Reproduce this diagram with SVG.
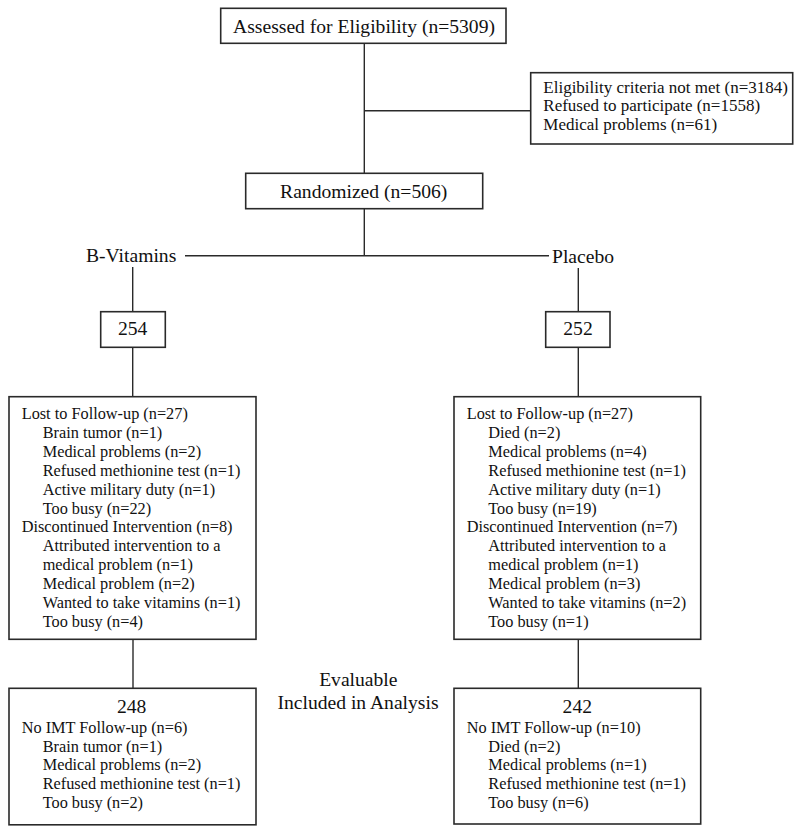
<svg xmlns="http://www.w3.org/2000/svg" width="800" height="830" viewBox="0 0 800 830">
<style>
  .box { fill: #fff; stroke: #2a2a2a; stroke-width: 1.6; }
  .ln { stroke: #2a2a2a; stroke-width: 1.4; fill: none; }
  text { font-family: "Liberation Serif", "Times New Roman", serif; fill: #111; }
  .big { font-size: 19.6px; }
  .sm { font-size: 16.3px; }
  .ex { font-size: 17px; }
  .c { text-anchor: middle; }
</style>
<rect width="800" height="830" fill="#fff"/>
<g id="connectors">
  <line class="ln" x1="364.3" y1="43.3" x2="364.3" y2="173.3"/>
  <line class="ln" x1="364.3" y1="110.7" x2="530.7" y2="110.7"/>
  <line class="ln" x1="364.3" y1="208.7" x2="364.3" y2="255.7"/>
  <line class="ln" x1="185" y1="255.7" x2="549" y2="255.7"/>
  <line class="ln" x1="132.7" y1="267" x2="132.7" y2="311.7"/>
  <line class="ln" x1="578.3" y1="268" x2="578.3" y2="311.7"/>
  <line class="ln" x1="132.7" y1="347.3" x2="132.7" y2="396.7"/>
  <line class="ln" x1="578.3" y1="347.3" x2="578.3" y2="396.7"/>
  <line class="ln" x1="133" y1="639.3" x2="133" y2="688.3"/>
  <line class="ln" x1="578.3" y1="639.3" x2="578.3" y2="688.3"/>
</g>
<g id="assessed">
  <rect class="box" x="220.7" y="8.3" width="285.3" height="35"/>
  <text class="big c" x="364" y="33.3">Assessed for Eligibility (n=5309)</text>
</g>
<g id="excluded">
  <rect class="box" x="530.7" y="72.7" width="262" height="71.3"/>
  <text class="ex" x="543.3" y="93">Eligibility criteria not met (n=3184)</text>
  <text class="ex" x="543.3" y="111.3">Refused to participate (n=1558)</text>
  <text class="ex" x="543.3" y="129.6">Medical problems (n=61)</text>
</g>
<g id="randomized">
  <rect class="box" x="245.7" y="173.3" width="237" height="35.4"/>
  <text class="big c" x="363.7" y="197.7">Randomized (n=506)</text>
</g>
<g id="label-bvitamins">
  <text class="big" x="86" y="262">B-Vitamins</text>
</g>
<g id="label-placebo">
  <text class="big" x="552" y="263">Placebo</text>
</g>
<g id="n254">
  <rect class="box" x="100.7" y="311.7" width="64.6" height="35.6"/>
  <text class="big c" x="132.7" y="335">254</text>
</g>
<g id="n252">
  <rect class="box" x="545.7" y="311.7" width="64.3" height="35.6"/>
  <text class="big c" x="578" y="335">252</text>
</g>
<g id="lost-left">
  <rect class="box" x="9" y="396.7" width="247" height="242.6"/>
  <text class="sm">
    <tspan x="21.7" y="419">Lost to Follow-up (n=27)</tspan>
    <tspan x="42.7" y="437.9">Brain tumor (n=1)</tspan>
    <tspan x="42.7" y="456.8">Medical problems (n=2)</tspan>
    <tspan x="42.7" y="475.7">Refused methionine test (n=1)</tspan>
    <tspan x="42.7" y="494.6">Active military duty (n=1)</tspan>
    <tspan x="42.7" y="513.5">Too busy (n=22)</tspan>
    <tspan x="21.7" y="532.4">Discontinued Intervention (n=8)</tspan>
    <tspan x="42.7" y="551.3">Attributed intervention to a</tspan>
    <tspan x="42.7" y="570.2">medical problem (n=1)</tspan>
    <tspan x="42.7" y="589.1">Medical problem (n=2)</tspan>
    <tspan x="42.7" y="608">Wanted to take vitamins (n=1)</tspan>
    <tspan x="42.7" y="626.9">Too busy (n=4)</tspan>
  </text>
</g>
<g id="lost-right">
  <rect class="box" x="454" y="396.7" width="246.7" height="242.6"/>
  <text class="sm">
    <tspan x="466.7" y="419">Lost to Follow-up (n=27)</tspan>
    <tspan x="488.3" y="437.9">Died (n=2)</tspan>
    <tspan x="488.3" y="456.8">Medical problems (n=4)</tspan>
    <tspan x="488.3" y="475.7">Refused methionine test (n=1)</tspan>
    <tspan x="488.3" y="494.6">Active military duty (n=1)</tspan>
    <tspan x="488.3" y="513.5">Too busy (n=19)</tspan>
    <tspan x="466.7" y="532.4">Discontinued Intervention (n=7)</tspan>
    <tspan x="488.3" y="551.3">Attributed intervention to a</tspan>
    <tspan x="488.3" y="570.2">medical problem (n=1)</tspan>
    <tspan x="488.3" y="589.1">Medical problem (n=3)</tspan>
    <tspan x="488.3" y="608">Wanted to take vitamins (n=2)</tspan>
    <tspan x="488.3" y="626.9">Too busy (n=1)</tspan>
  </text>
</g>
<g id="label-evaluable">
  <text class="big c" x="358.3" y="686">Evaluable</text>
  <text class="big c" x="358" y="709.3">Included in Analysis</text>
</g>
<g id="analysed-left">
  <rect class="box" x="9" y="688.3" width="247" height="136.5"/>
  <text class="big c" x="131.7" y="713">248</text>
  <text class="sm">
    <tspan x="21.7" y="732.7">No IMT Follow-up (n=6)</tspan>
    <tspan x="42.7" y="751.5">Brain tumor (n=1)</tspan>
    <tspan x="42.7" y="770.3">Medical problems (n=2)</tspan>
    <tspan x="42.7" y="789.1">Refused methionine test (n=1)</tspan>
    <tspan x="42.7" y="807.9">Too busy (n=2)</tspan>
  </text>
</g>
<g id="analysed-right">
  <rect class="box" x="454" y="688.3" width="246.7" height="135.7"/>
  <text class="big c" x="577.3" y="713">242</text>
  <text class="sm">
    <tspan x="466.7" y="732.7">No IMT Follow-up (n=10)</tspan>
    <tspan x="488.3" y="751.5">Died (n=2)</tspan>
    <tspan x="488.3" y="770.3">Medical problems (n=1)</tspan>
    <tspan x="488.3" y="789.1">Refused methionine test (n=1)</tspan>
    <tspan x="488.3" y="807.9">Too busy (n=6)</tspan>
  </text>
</g>
</svg>
